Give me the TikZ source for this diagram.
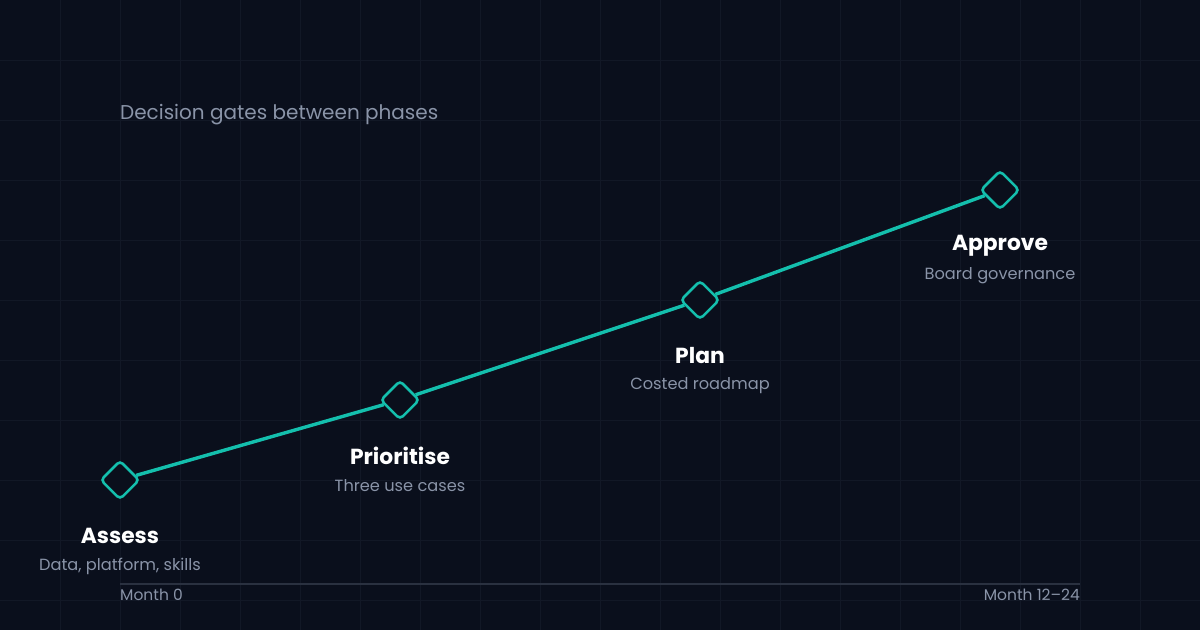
\documentclass[tikz,border=0pt]{standalone}
\usepackage{fontspec}
\setmainfont{Poppins}
\definecolor{bgdark}{HTML}{0A0F1C}
\definecolor{gridline}{HTML}{121826}
\definecolor{teal}{HTML}{14BFAD}
\definecolor{muted}{HTML}{8A94A8}
\definecolor{axisline}{HTML}{2A3140}
\tikzset{
  gate/.style = {draw = teal, fill = bgdark, line width = 2.6pt, rectangle, rotate = 45,
                 minimum size = 27pt, rounded corners = 4pt, inner sep = 0pt},
  phase/.style = {text = white, font = \fontsize{21.8}{24}\selectfont\bfseries, inner sep = 0pt},
  detail/.style = {text = muted, font = \fontsize{16.2}{18}\selectfont, inner sep = 0pt},
  tick/.style = {text = muted, font = \fontsize{15.5}{17}\selectfont, inner sep = 0pt}
}
\begin{document}
\begin{tikzpicture}[x = 1pt, y = -1pt]
        \fill[bgdark] (0, 0) rectangle (1200, 630);
        \useasboundingbox (0, 0) rectangle (1200, 630);
        \foreach \i in {60, 120, ..., 1140}
            \draw[gridline, line width = 1pt] (\i, 0) -- (\i, 630);
        \foreach \j in {60, 120, ..., 600}
            \draw[gridline, line width = 1pt] (0, \j) -- (1200, \j);
        \node[text = muted, font = \fontsize{20}{24}\selectfont, anchor = west, inner sep = 0pt] (title) at (120, 115) {Decision gates between phases};
        \node[gate] (assess) at (120, 480) {};
        \node[gate] (prioritise) at (400, 400) {};
        \node[gate] (plan) at (700, 300) {};
        \node[gate] (approve) at (1000, 190) {};
        \draw[teal, line width = 3.4pt] (assess) -- (prioritise) -- (plan) -- (approve);
        \node[phase] (assesslbl) at (120, 536) {Assess};
        \node[detail] (assesstxt) at (120, 566) {Data, platform, skills};
        \node[phase] (prioritiselbl) at (400, 456) {Prioritise};
        \node[detail] (prioritisetxt) at (400, 486) {Three use cases};
        \node[phase] (planlbl) at (700, 356) {Plan};
        \node[detail] (plantxt) at (700, 386) {Costed roadmap};
        \node[phase] (approvelbl) at (1000, 246) {Approve};
        \node[detail] (approvetxt) at (1000, 276) {Board governance};
        \coordinate (axisstart) at (120, 584);
        \coordinate (axisend) at (1080, 584);
        \draw[axisline, line width = 1.6pt] (axisstart) -- (axisend);
        \node[tick, anchor = west] (monthzero) at (120, 595) {Month 0};
        \node[tick, anchor = east] (monthend) at (1080, 595) {Month 12–24};
    \end{tikzpicture}
\end{document}
